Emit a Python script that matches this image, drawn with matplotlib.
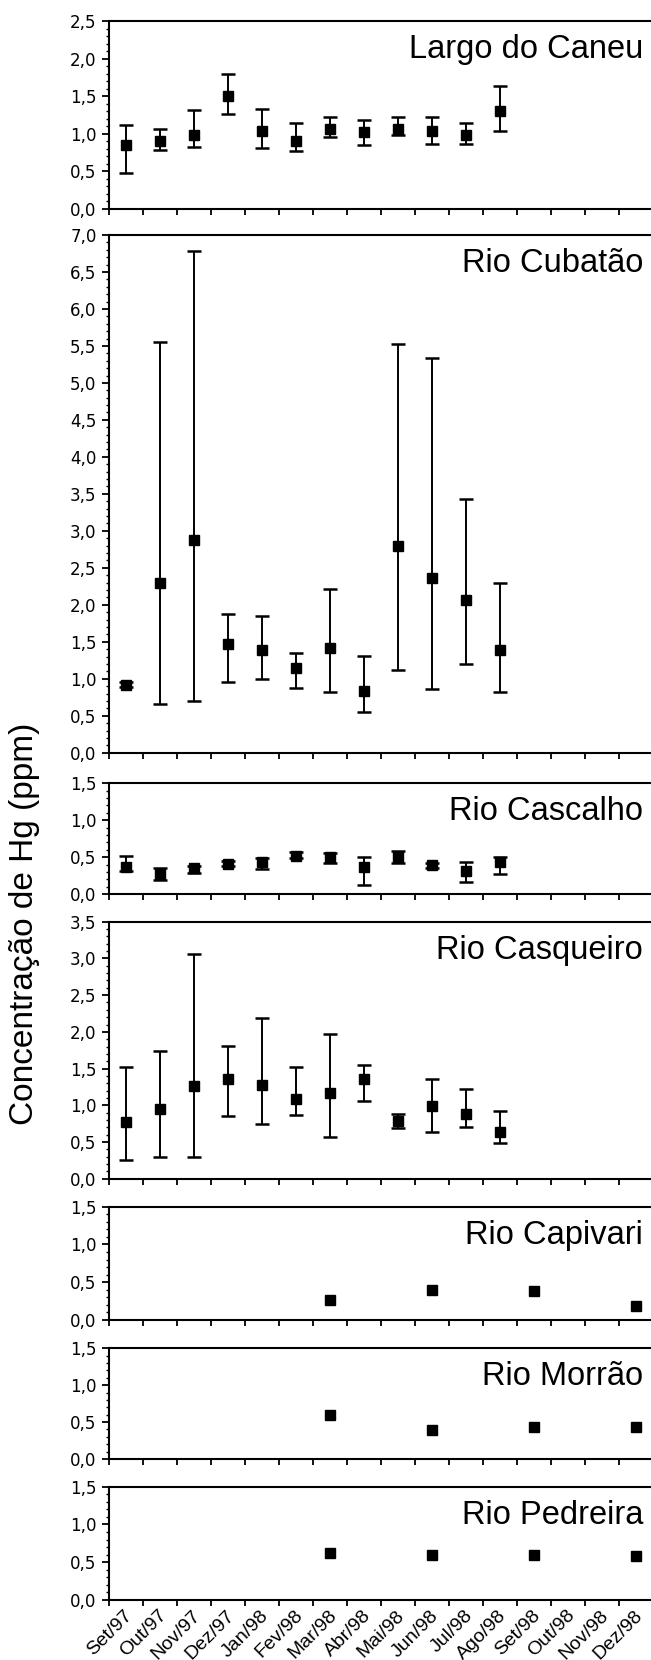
import matplotlib
matplotlib.use("Agg")
import matplotlib.pyplot as plt
import matplotlib.transforms as mtransforms
from matplotlib.ticker import MultipleLocator, FuncFormatter

# month labels (categories)
meses = ["Set/97", "Out/97", "Nov/97", "Dez/97", "Jan/98", "Fev/98", "Mar/98", "Abr/98",
         "Mai/98", "Jun/98", "Jul/98", "Ago/98", "Set/98", "Out/98", "Nov/98", "Dez/98"]

# stations with monthly data Set/97 .. Ago/98 : mean, max, min
caneu_med = [0.85, 0.91, 0.99, 1.50, 1.04, 0.91, 1.07, 1.03, 1.07, 1.04, 0.99, 1.30]
caneu_max = [1.12, 1.07, 1.31, 1.80, 1.33, 1.14, 1.22, 1.19, 1.22, 1.22, 1.14, 1.63]
caneu_min = [0.48, 0.78, 0.83, 1.26, 0.81, 0.77, 0.96, 0.85, 0.99, 0.87, 0.87, 1.04]

cubatao_med = [0.92, 2.30, 2.87, 1.47, 1.39, 1.15, 1.41, 0.84, 2.79, 2.36, 2.07, 1.39]
cubatao_max = [0.95, 5.55, 6.79, 1.87, 1.85, 1.35, 2.22, 1.31, 5.53, 5.34, 3.43, 2.30]
cubatao_min = [0.89, 0.66, 0.70, 0.96, 1.00, 0.88, 0.82, 0.555, 1.12, 0.86, 1.20, 0.82]

cascalho_med = [0.37, 0.28, 0.35, 0.41, 0.44, 0.52, 0.50, 0.37, 0.50, 0.39, 0.32, 0.43]
cascalho_max = [0.52, 0.36, 0.38, 0.45, 0.49, 0.57, 0.56, 0.51, 0.58, 0.42, 0.44, 0.50]
cascalho_min = [0.31, 0.19, 0.29, 0.38, 0.34, 0.49, 0.42, 0.12, 0.42, 0.35, 0.16, 0.28]

casqueiro_med = [0.77, 0.95, 1.26, 1.36, 1.28, 1.08, 1.17, 1.36, 0.79, 0.99, 0.88, 0.64]
casqueiro_max = [1.52, 1.74, 3.06, 1.81, 2.19, 1.52, 1.97, 1.55, 0.88, 1.36, 1.22, 0.92]
casqueiro_min = [0.25, 0.30, 0.30, 0.85, 0.74, 0.87, 0.57, 1.06, 0.69, 0.63, 0.71, 0.49]

# stations sampled only every three months
trimestral = ["Mar/98", "Jun/98", "Set/98", "Dez/98"]
capivari = [0.265, 0.40, 0.38, 0.185]
morrao = [0.59, 0.39, 0.43, 0.43]
pedreira = [0.62, 0.60, 0.60, 0.58]

# panel layout in pixels (top, bottom) and y max
W, H = 651, 1660
left_px, right_px = 109, 653
paineis = [
    ("Largo do Caneu", 21, 209, 2.5),
    ("Rio Cubatão", 235, 752.7, 7.0),
    ("Rio Cascalho", 783.3, 894.3, 1.5),
    ("Rio Casqueiro", 921.7, 1178.7, 3.5),
    ("Rio Capivari", 1206.7, 1320, 1.5),
    ("Rio Morrão", 1348.3, 1459, 1.5),
    ("Rio Pedreira", 1486.7, 1600, 1.5),
]

mensais = [
    (caneu_med, caneu_max, caneu_min),
    (cubatao_med, cubatao_max, cubatao_min),
    (cascalho_med, cascalho_max, cascalho_min),
    (casqueiro_med, casqueiro_max, casqueiro_min),
]
trimestrais = [capivari, morrao, pedreira]

fig = plt.figure(figsize=(W / 100, H / 100), dpi=100)
virgula = FuncFormatter(lambda v, p: ("%.1f" % v).replace(".", ","))
fonte = ["Liberation Sans", "DejaVu Sans"]

for k, (nome, top, bot, ymax) in enumerate(paineis):
    ax = fig.add_axes([left_px / W, 1 - bot / H, (right_px - left_px) / W, (bot - top) / H])

    if k < 4:
        med, mx, mn = mensais[k]
        x = [i + 0.5 for i in range(len(med))]
        err_lo = [m - lo for m, lo in zip(med, mn)]
        err_hi = [hi - m for m, hi in zip(med, mx)]
        ax.errorbar(x, med, yerr=[err_lo, err_hi], fmt="s", color="black", ms=7.3,
                    elinewidth=1.4, capsize=4.8, capthick=1.8)
    else:
        vals = trimestrais[k - 4]
        x = [meses.index(m) + 0.5 for m in trimestral]
        ax.plot(x, vals, "s", color="black", ms=7.3)

    ax.set_xlim(0, 16)
    ax.set_ylim(0, ymax)
    ax.yaxis.set_major_locator(MultipleLocator(0.5))
    ax.yaxis.set_minor_locator(MultipleLocator(0.1))
    ax.yaxis.set_major_formatter(virgula)
    ax.set_xticks(range(0, 16))
    ax.set_xticklabels([])
    ax.set_xticks([i + 0.5 for i in range(16)], minor=True)
    ax.tick_params(axis="x", which="minor", length=0)
    ax.tick_params(axis="x", which="major", direction="out", length=4, width=1.3)
    ax.tick_params(axis="y", which="major", direction="out", length=5, width=1.3,
                   labelsize=12, pad=4)
    ax.tick_params(axis="y", which="minor", direction="out", length=2.5, width=1.0)
    for s in ["top", "left", "bottom"]:
        ax.spines[s].set_linewidth(1.5)
    ax.spines["right"].set_visible(False)

    ax.annotate(nome, xy=(1, 1), xycoords="axes fraction", xytext=(-10, -13),
                textcoords="offset pixels", ha="right", va="top",
                fontsize=23.5, family=fonte)

    if k == len(paineis) - 1:
        ax.set_xticklabels(meses, minor=True, rotation=45, ha="right", va="top",
                           fontsize=14, family=fonte)
        ax.tick_params(axis="x", which="minor", pad=5)
        desloc = mtransforms.ScaledTranslation(10 / 100, 0, fig.dpi_scale_trans)
        for lbl in ax.get_xticklabels(minor=True):
            lbl.set_transform(lbl.get_transform() + desloc)

fig.text(25 / W, 1 - 924 / H, "Concentração de Hg (ppm)", rotation=90,
         ha="center", va="center", fontsize=24, family=fonte)

fig.savefig("out.png", dpi=100)
